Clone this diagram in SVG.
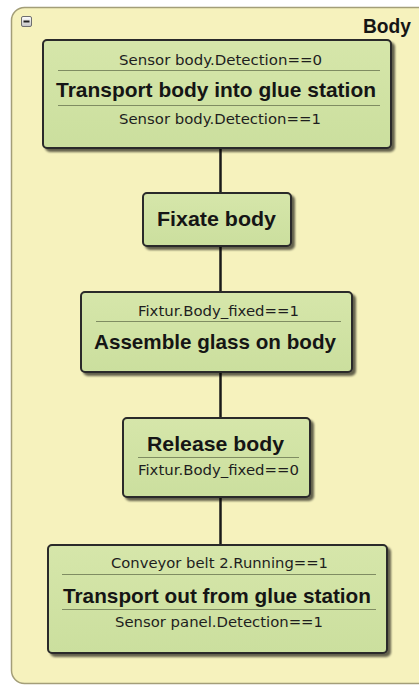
<svg xmlns="http://www.w3.org/2000/svg" width="419" height="688" viewBox="0 0 419 688">
  <defs>
    <linearGradient id="stepFill" x1="0" y1="0" x2="0" y2="1">
      <stop offset="0" stop-color="#D6E6AA"/>
      <stop offset="1" stop-color="#CBDF9E"/>
    </linearGradient>
    <linearGradient id="btnFill" x1="0" y1="0" x2="0" y2="1">
      <stop offset="0" stop-color="#FFFFFF"/>
      <stop offset="1" stop-color="#C4C4C4"/>
    </linearGradient>
    <filter id="shadow" x="-5%" y="-5%" width="115%" height="125%">
      <feGaussianBlur in="SourceAlpha" stdDeviation="1"/>
      <feOffset dx="3" dy="3" result="off"/>
      <feComponentTransfer><feFuncA type="linear" slope="0.6"/></feComponentTransfer>
      <feMerge><feMergeNode/><feMergeNode in="SourceGraphic"/></feMerge>
    </filter>
  </defs>
  <style>
    .box { fill: url(#stepFill); stroke: #2A2A2A; stroke-width: 2; filter: url(#shadow); }
    .sep { stroke: #7F8C62; stroke-width: 1; }
    .cond { font-family: "DejaVu Sans", Verdana, sans-serif; font-size: 14px; fill: #1E1E1E; text-anchor: middle; }
    .title { font-family: "Liberation Sans", Arial, sans-serif; font-weight: bold; font-size: 21px; fill: #151515; text-anchor: middle; }
    .link { stroke: #1A1A1A; stroke-width: 2.5; fill: none; }
  </style>

  <rect width="419" height="688" fill="#FFFFFF"/>

  <!-- container: Body -->
  <g id="container-body">
    <rect x="11.5" y="7.5" width="430" height="676" rx="13" fill="#F6F2BD" stroke="#A39E78" stroke-width="1.5"/>
    <rect x="21.5" y="16.5" width="10" height="10" rx="1.5" fill="url(#btnFill)" stroke="#6E6E6E" stroke-width="1"/>
    <line x1="23.5" y1="21.5" x2="29.5" y2="21.5" stroke="#222" stroke-width="2"/>
    <text x="387" y="33" class="title" textLength="48" lengthAdjust="spacingAndGlyphs">Body</text>
  </g>

  <!-- connectors -->
  <g id="connectors">
    <line class="link" x1="220.5" y1="148" x2="220.5" y2="193"/>
    <line class="link" x1="220.5" y1="246" x2="220.5" y2="292"/>
    <line class="link" x1="220.5" y1="372" x2="220.5" y2="418"/>
    <line class="link" x1="220.5" y1="497" x2="220.5" y2="545"/>
  </g>

  <g id="step-transport-in">
    <rect class="box" x="43" y="40" width="348" height="108" rx="4"/>
    <text x="220.5" y="65" class="cond" textLength="203" lengthAdjust="spacingAndGlyphs">Sensor body.Detection==0</text>
    <line class="sep" x1="58" y1="70.5" x2="380" y2="70.5"/>
    <text x="216" y="97" class="title" textLength="320" lengthAdjust="spacingAndGlyphs">Transport body into glue station</text>
    <line class="sep" x1="58" y1="105.5" x2="380" y2="105.5"/>
    <text x="220" y="124" class="cond" textLength="202" lengthAdjust="spacingAndGlyphs">Sensor body.Detection==1</text>
  </g>

  <g id="step-fixate">
    <rect class="box" x="143" y="193" width="148" height="53" rx="4"/>
    <text x="216.5" y="226" class="title" textLength="119" lengthAdjust="spacingAndGlyphs">Fixate body</text>
  </g>

  <g id="step-assemble">
    <rect class="box" x="81" y="292" width="271" height="80" rx="4"/>
    <text x="218.5" y="316" class="cond" textLength="161" lengthAdjust="spacingAndGlyphs">Fixtur.Body_fixed==1</text>
    <line class="sep" x1="96" y1="321.5" x2="341" y2="321.5"/>
    <text x="215" y="349" class="title" textLength="242" lengthAdjust="spacingAndGlyphs">Assemble glass on body</text>
  </g>

  <g id="step-release">
    <rect class="box" x="123" y="418" width="187" height="79" rx="4"/>
    <text x="215.5" y="451" class="title" textLength="137" lengthAdjust="spacingAndGlyphs">Release body</text>
    <line class="sep" x1="138" y1="457.5" x2="299" y2="457.5"/>
    <text x="218.5" y="475" class="cond" textLength="161" lengthAdjust="spacingAndGlyphs">Fixtur.Body_fixed==0</text>
  </g>

  <g id="step-transport-out">
    <rect class="box" x="48" y="545" width="339" height="108" rx="4"/>
    <text x="219.5" y="568" class="cond" textLength="217" lengthAdjust="spacingAndGlyphs">Conveyor belt 2.Running==1</text>
    <line class="sep" x1="62" y1="574.5" x2="376" y2="574.5"/>
    <text x="217" y="603" class="title" textLength="308" lengthAdjust="spacingAndGlyphs">Transport out from glue station</text>
    <line class="sep" x1="62" y1="609.5" x2="376" y2="609.5"/>
    <text x="219" y="627" class="cond" textLength="208" lengthAdjust="spacingAndGlyphs">Sensor panel.Detection==1</text>
  </g>
</svg>
